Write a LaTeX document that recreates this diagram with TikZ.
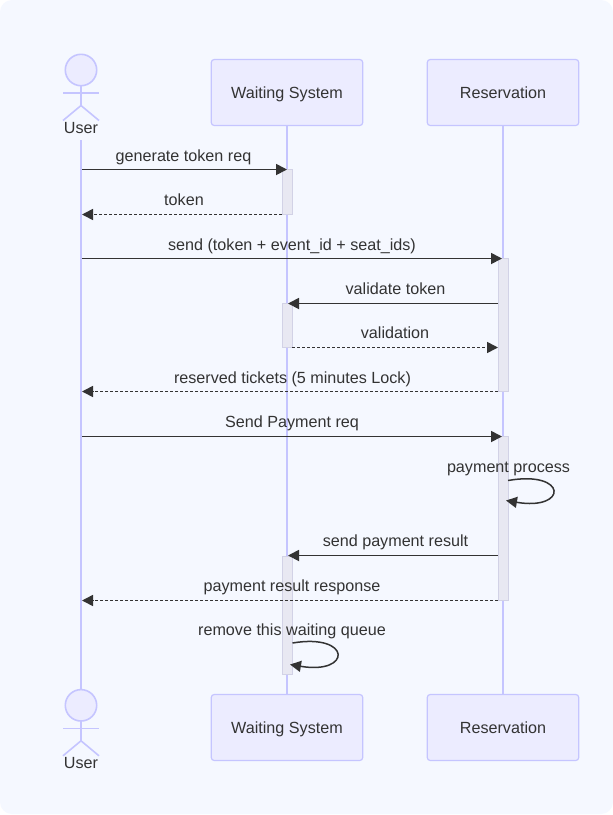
\documentclass[tikz,border=0pt]{standalone}
\usepackage{fontspec}
\setmainfont{Liberation Sans}
\usepackage{xcolor}
\usetikzlibrary{arrows.meta}
\definecolor{page bg}{HTML}{F5F8FF}
\definecolor{actor fill}{HTML}{ECECFF}
\definecolor{actor line}{HTML}{C5C5FF}
\definecolor{bar fill}{HTML}{E8E8F2}
\definecolor{bar line}{HTML}{D2D2E6}
\definecolor{msg color}{HTML}{333333}
\begin{document}
\begin{tikzpicture}[x=1pt,y=-1pt,
                    my box/.style={draw=actor line,fill=actor fill,line width=1.2pt,rounded corners=3pt,
                        minimum width=151.5pt,minimum height=66pt,inner sep=0pt,text=msg color,
                        text height=11.5pt,text depth=0pt,font=\fontsize{16.15}{19}\selectfont},
                    my life/.style={draw=actor line,line width=1.8pt},
                    my stick/.style={draw=actor line,line width=1.6pt},
                    my bar/.style={draw=bar line,fill=bar fill,line width=0.8pt},
                    my msg/.style={draw=msg color,line width=1.8pt,-{Triangle[length=11pt,width=11pt]}},
                    my reply/.style={my msg,line width=1.6pt,dash pattern=on 3pt off 2pt},
                    my text/.style={text=msg color,inner sep=0pt,font=\fontsize{16.15}{19}\selectfont,text depth=3.5pt}]
\useasboundingbox (0,0) rectangle (613,815);
\fill[white] (0,0) rectangle (613,815);
\fill[page bg,rounded corners=12pt] (0,0) rectangle (613,814);
\def\xuser{81}\def\xwait{287}\def\xres{503} % lifeline positions
% lifelines
\coordinate (user top) at (\xuser,140);
\coordinate (user end) at (\xuser,690);
\node[my box] (wait top) at (\xwait,92.5) {Waiting System};
\node[my box] (res top) at (\xres,92.5) {Reservation};
\node[my box] (wait end) at (\xwait,727.5) {Waiting System};
\node[my box] (res end) at (\xres,727.5) {Reservation};
\draw[my life] (user top) -- (user end);
\draw[my life] (wait top) -- (wait end);
\draw[my life] (res top) -- (res end);
% the two stick figures
\foreach \yhead/\name in {70/top,705.3/end}{
  \draw[my stick,fill=actor fill] (\xuser,\yhead) circle (15.7);
  \draw[my stick] (\xuser,\yhead+15.7) -- (\xuser,\yhead+35.5);
  \draw[my stick] (\xuser-18,\yhead+23) -- (\xuser+18,\yhead+23);
  \draw[my stick] (\xuser-18,\yhead+50.5) -- (\xuser,\yhead+35.5) -- (\xuser+18,\yhead+50.5);
  \node[my text,anchor=base] (user label \name) at (\xuser,\yhead+63.5) {User};
}
% activation bars
\draw[my bar] (\xwait-5,169) rectangle (\xwait+5,214);
\draw[my bar] (\xres-5,258.5) rectangle (\xres+5,391);
\draw[my bar] (\xwait-5,303) rectangle (\xwait+5,347.5);
\draw[my bar] (\xres-5,436) rectangle (\xres+5,600);
\draw[my bar] (\xwait-5,556) rectangle (\xwait+5,674.5);
% message end points
\coordinate (gen a) at (\xuser+1,169.5);  \coordinate (gen b) at (\xwait,169.5);
\coordinate (tok a) at (\xwait-5,214.5);  \coordinate (tok b) at (\xuser+1,214.5);
\coordinate (send a) at (\xuser+1,258.5); \coordinate (send b) at (\xres-1,258.5);
\coordinate (val a) at (\xres-5,303.5);   \coordinate (val b) at (\xwait+1,303.5);
\coordinate (ok a) at (\xwait+5,347.5);   \coordinate (ok b) at (\xres-5,347.5);
\coordinate (lock a) at (\xres-5,391.5);  \coordinate (lock b) at (\xuser+1,391.5);
\coordinate (pay a) at (\xuser+1,436.5);  \coordinate (pay b) at (\xres-1,436.5);
\coordinate (result a) at (\xres-5,555.5);\coordinate (result b) at (\xwait+1,555.5);
\coordinate (resp a) at (\xres-5,600.5);  \coordinate (resp b) at (\xuser+1,600.5);
\coordinate (self a) at (508,480.5);      \coordinate (self b) at (506,500.5);
\coordinate (drop a) at (292.5,643);      \coordinate (drop b) at (290,664.5);
% messages
\draw[my msg] (gen a) -- node[my text,above=4pt,xshift=-1pt] (gen text) {generate token req} (gen b);
\draw[my reply] (tok a) -- node[my text,above=4.5pt,xshift=2pt] (tok text) {token} (tok b);
\draw[my msg] (send a) -- node[my text,above=4pt] (send text) {send (token + event\_id + seat\_ids)} (send b);
\draw[my msg] (val a) -- node[my text,above=4.5pt,xshift=2.5pt] (val text) {validate token} (val b);
\draw[my reply] (ok a) -- node[my text,above=4.5pt] (ok text) {validation} (ok b);
\draw[my reply] (lock a) -- node[my text,above=4pt,xshift=2.5pt] (lock text) {reserved tickets (5 minutes Lock)} (lock b);
\draw[my msg] (pay a) -- node[my text,above=4.5pt] (pay text) {Send Payment req} (pay b);
\draw[my msg] (result a) -- node[my text,above=4.5pt,xshift=2.5pt] (result text) {send payment result} (result b);
\draw[my reply] (resp a) -- node[my text,above=4.5pt,xshift=2pt] (resp text) {payment result response} (resp b);
% self messages
\node[my text,anchor=base] (self text) at (508.5,472) {payment process};
\draw[my msg,line width=1.5pt] (self a) .. controls (568,470) and (568,511) .. (self b);
\node[my text,anchor=base] (drop text) at (292,635) {remove this waiting queue};
\draw[my msg,line width=1.5pt] (drop a) .. controls (352,633) and (352,675) .. (drop b);
\end{tikzpicture}
\end{document}
